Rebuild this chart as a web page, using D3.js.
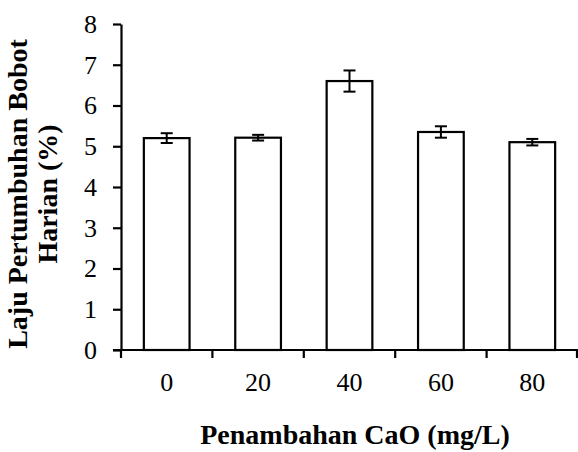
<!DOCTYPE html>
<html><head><meta charset="utf-8">
<script src="https://cdn.jsdelivr.net/npm/d3@7"></script>
<style>body{margin:0;background:#fff}svg{display:block}</style>
</head><body>
<script>
const categories = ["0","20","40","60","80"];
const values = [5.2, 5.21, 6.6, 5.35, 5.1];
const errors = [0.12, 0.07, 0.26, 0.14, 0.08];
const yTicks = [0,1,2,3,4,5,6,7,8];
const xTitle = "Penambahan CaO (mg/L)";
const yTitle = ["Laju Pertumbuhan Bobot", "Harian (%)"];

const W = 578, H = 452;
const mLeft = 121, mRight = 578, mTop = 24, mBottom = 350;
const font = "'Liberation Serif','Times New Roman',serif";

const svg = d3.select("body").append("svg").attr("width", W).attr("height", H);

const x = d3.scaleBand().domain(categories).range([mLeft, mRight]).paddingInner(0.5).paddingOuter(0.25);
const xb = d3.scaleBand().domain(categories).range([mLeft, mRight]);
const y = d3.scaleLinear().domain([0, 8]).range([mBottom, mTop]);

// bars
svg.append("g").selectAll("rect").data(categories).join("rect")
  .attr("x", d => x(d)).attr("width", x.bandwidth())
  .attr("y", (d,i) => y(values[i])).attr("height", (d,i) => y(0) - y(values[i]))
  .attr("fill", "#fff").attr("stroke", "#000").attr("stroke-width", 2.2);

// error bars
const eg = svg.append("g").attr("stroke", "#000").attr("stroke-width", 2);
categories.forEach((c,i) => {
  const cx = x(c) + x.bandwidth()/2;
  eg.append("line").attr("x1", cx).attr("x2", cx).attr("y1", y(values[i]+errors[i])).attr("y2", y(values[i]-errors[i]));
  eg.append("line").attr("x1", cx-6).attr("x2", cx+6).attr("y1", y(values[i]+errors[i])).attr("y2", y(values[i]+errors[i]));
  eg.append("line").attr("x1", cx-6).attr("x2", cx+6).attr("y1", y(values[i]-errors[i])).attr("y2", y(values[i]-errors[i]));
});

// y axis
const ya = svg.append("g").attr("transform", `translate(${mLeft},0)`)
  .call(d3.axisLeft(y).tickValues(yTicks).tickSize(8).tickSizeOuter(0).tickPadding(16).tickFormat(d3.format("d")));
ya.select(".domain").attr("stroke-width", 2.2);
ya.selectAll(".tick line").attr("stroke-width", 2.2);
ya.selectAll("text").attr("font-family", font).attr("font-size", 26).attr("fill", "#000");

// x axis
const xa = svg.append("g").attr("transform", `translate(0,${mBottom})`)
  .call(d3.axisBottom(x).tickSize(0).tickPadding(23));
xa.select(".domain").attr("stroke-width", 2.2).attr("d", `M${mLeft-8},0H${mRight}`);
xa.selectAll("text").attr("font-family", font).attr("font-size", 26).attr("fill", "#000");
// boundary ticks
svg.append("g").selectAll("line").data(d3.range(categories.length+1)).join("line")
  .attr("x1", i => Math.min(mLeft + i*xb.bandwidth(), mRight-1)).attr("x2", i => Math.min(mLeft + i*xb.bandwidth(), mRight-1))
  .attr("y1", mBottom).attr("y2", mBottom+8).attr("stroke", "#000").attr("stroke-width", 2.2);

// titles
svg.append("text").attr("x", 355).attr("y", 444).attr("text-anchor", "middle")
  .attr("font-family", font).attr("font-size", 28).attr("font-weight", "bold").text(xTitle);
const yt = svg.append("text").attr("transform", "translate(0,194) rotate(-90)")
  .attr("text-anchor", "middle").attr("font-family", font).attr("font-size", 28).attr("font-weight", "bold");
yt.append("tspan").attr("x", 0).attr("y", 27).text(yTitle[0]);
yt.append("tspan").attr("x", 0).attr("y", 57).text(yTitle[1]);
</script>
</body></html>
